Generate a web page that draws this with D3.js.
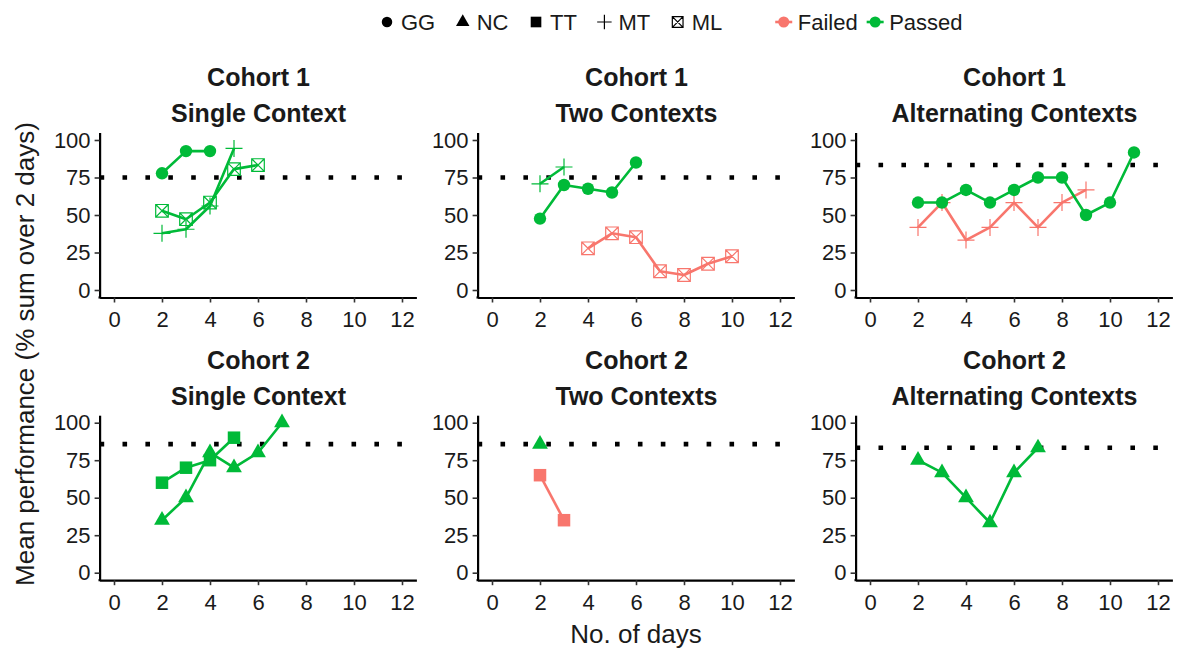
<!DOCTYPE html>
<html><head><meta charset="utf-8">
<script src="https://cdn.jsdelivr.net/npm/d3@7"></script>
<style>body{margin:0;background:#fff} svg{display:block} text{font-family:"Liberation Sans",Arial,Helvetica,sans-serif}</style>
</head><body>
<svg id="chart" width="1178" height="649"></svg>
<script>
// ---------- data ----------
const dayTicks = [0, 2, 4, 6, 8, 10, 12];
const perfTicks = [0, 25, 50, 75, 100];
const cohorts = ["Cohort 1", "Cohort 2"];
const conditions = ["Single Context", "Two Contexts", "Alternating Contexts"];
const thresholdsCohort1 = [75, 75, 83.3];
const thresholdsCohort2 = [85.7, 85.7, 83.3];
const subjects = ["GG", "NC", "TT", "MT", "ML"];
const outcomes = ["Failed", "Passed"];

// Cohort 1 - Single Context
const c1SingleGGDays = [2, 3, 4];
const c1SingleGG = [77.8, 92.6, 92.6];
const c1SingleMTDays = [2, 3, 4, 5];
const c1SingleMT = [37.8, 40.5, 56, 94.4];
const c1SingleMLDays = [2, 3, 4, 5, 6];
const c1SingleML = [52.8, 47.2, 58.3, 80.6, 83.3];
// Cohort 1 - Two Contexts
const c1TwoGGDays = [2, 3, 4, 5, 6];
const c1TwoGG = [47.6, 70, 67.5, 65, 85];
const c1TwoMTDays = [2, 3];
const c1TwoMT = [70.8, 82];
const c1TwoMLDays = [4, 5, 6, 7, 8, 9, 10];
const c1TwoML = [27.8, 37.8, 35.2, 12.5, 10, 17.5, 22.5];
// Cohort 1 - Alternating Contexts
const c1AltGGDays = [2, 3, 4, 5, 6, 7, 8, 9, 10, 11];
const c1AltGG = [58.3, 58.3, 66.7, 58.3, 66.7, 75, 75, 50, 58.3, 91.7];
const c1AltMTDays = [2, 3, 4, 5, 6, 7, 8, 9];
const c1AltMT = [41.7, 58.3, 33.3, 41.7, 58.3, 41.7, 58.3, 66.7];
// Cohort 2 - Single Context
const c2SingleTTDays = [2, 3, 4, 5];
const c2SingleTT = [60, 70, 75, 90];
const c2SingleNCDays = [2, 3, 4, 5, 6, 7];
const c2SingleNC = [35, 50, 80, 70, 80, 100];
// Cohort 2 - Two Contexts
const c2TwoTTDays = [2, 3];
const c2TwoTT = [65, 35];
const c2TwoNCDays = [2];
const c2TwoNC = [85.7];
// Cohort 2 - Alternating Contexts
const c2AltNCDays = [2, 3, 4, 5, 6, 7];
const c2AltNC = [75, 66.7, 50, 33.3, 66.7, 83.3];

const series = [
  {row: 0, col: 0, subject: "ML", outcome: "Passed", days: c1SingleMLDays, values: c1SingleML},
  {row: 0, col: 0, subject: "MT", outcome: "Passed", days: c1SingleMTDays, values: c1SingleMT},
  {row: 0, col: 0, subject: "GG", outcome: "Passed", days: c1SingleGGDays, values: c1SingleGG},
  {row: 0, col: 1, subject: "ML", outcome: "Failed", days: c1TwoMLDays, values: c1TwoML},
  {row: 0, col: 1, subject: "MT", outcome: "Passed", days: c1TwoMTDays, values: c1TwoMT},
  {row: 0, col: 1, subject: "GG", outcome: "Passed", days: c1TwoGGDays, values: c1TwoGG},
  {row: 0, col: 2, subject: "MT", outcome: "Failed", days: c1AltMTDays, values: c1AltMT},
  {row: 0, col: 2, subject: "GG", outcome: "Passed", days: c1AltGGDays, values: c1AltGG},
  {row: 1, col: 0, subject: "TT", outcome: "Passed", days: c2SingleTTDays, values: c2SingleTT},
  {row: 1, col: 0, subject: "NC", outcome: "Passed", days: c2SingleNCDays, values: c2SingleNC},
  {row: 1, col: 1, subject: "TT", outcome: "Failed", days: c2TwoTTDays, values: c2TwoTT},
  {row: 1, col: 1, subject: "NC", outcome: "Passed", days: c2TwoNCDays, values: c2TwoNC},
  {row: 1, col: 2, subject: "NC", outcome: "Passed", days: c2AltNCDays, values: c2AltNC}
];
const thresholds = [thresholdsCohort1, thresholdsCohort2];

// ---------- layout ----------
const svg = d3.select("#chart");
const colLeft = [99.6, 477.6, 855.6];
const panelW = 316.8;
const rowTop = [132.5, 415.2];
const panelH = 165;
const color = d3.scaleOrdinal().domain(outcomes).range(["#F8766D", "#00BA38"]);
const ink = "#1a1a1a";

function drawMarker(g, subject, col, scaleK) {
  const k = scaleK || 1;
  if (subject === "GG") {
    g.append("circle").attr("r", 6.2 * k).attr("fill", col);
  } else if (subject === "NC") {
    g.append("path").attr("d", d3.symbol(d3.symbolTriangle, 108 * k * k)()).attr("fill", col);
  } else if (subject === "TT") {
    const s = 12.5 * k;
    g.append("rect").attr("x", -s / 2).attr("y", -s / 2).attr("width", s).attr("height", s).attr("fill", col);
  } else if (subject === "MT") {
    const a = 8.5 * k;
    g.append("path").attr("d", `M${-a},0H${a}M0,${-a}V${a}`).attr("stroke", col).attr("stroke-width", 1.2).attr("fill", "none");
  } else if (subject === "ML") {
    const h = 6.3 * k;
    g.append("path").attr("d", `M${-h},${-h}H${h}V${h}H${-h}ZM${-h},${-h}L${h},${h}M${h},${-h}L${-h},${h}`)
      .attr("stroke", col).attr("stroke-width", 1.2).attr("fill", "none");
  }
}

for (let r = 0; r < 2; r++) {
  for (let c = 0; c < 3; c++) {
    const x = d3.scaleLinear().domain([-0.6, 12.6]).range([colLeft[c], colLeft[c] + panelW]);
    const y = d3.scaleLinear().domain([-5, 105]).range([rowTop[r] + panelH, rowTop[r]]);
    const g = svg.append("g");

    // axes
    const ax = g.append("g").attr("transform", `translate(0,${rowTop[r] + panelH})`)
      .call(d3.axisBottom(x).tickValues(dayTicks).tickSizeInner(5).tickSizeOuter(0).tickPadding(9));
    const ay = g.append("g").attr("transform", `translate(${colLeft[c]},0)`)
      .call(d3.axisLeft(y).tickValues(perfTicks).tickSizeInner(5).tickSizeOuter(0).tickPadding(4));
    [ax, ay].forEach(a => {
      a.select(".domain").attr("stroke", "#000").attr("stroke-width", 2.2);
      a.selectAll(".tick line").attr("stroke", "#333").attr("stroke-width", 1.6);
      a.selectAll(".tick text").attr("fill", ink).attr("font-size", 22)
        .style("font-family", '"Liberation Sans",Arial,sans-serif');
    });
    // close the corner
    g.append("line").attr("x1", colLeft[c] - 1.1).attr("x2", colLeft[c] + 1)
      .attr("y1", rowTop[r] + panelH).attr("y2", rowTop[r] + panelH).attr("stroke", "#000").attr("stroke-width", 2.2);

    // threshold
    g.append("line").attr("x1", colLeft[c]).attr("x2", colLeft[c] + panelW)
      .attr("y1", y(thresholds[r][c])).attr("y2", y(thresholds[r][c]))
      .attr("stroke", "#000").attr("stroke-width", 4.6).attr("stroke-dasharray", "4.6 18.3");

    // series
    const line = d3.line().x(d => x(d[0])).y(d => y(d[1]));
    series.filter(s => s.row === r && s.col === c).forEach(s => {
      const pts = s.days.map((d, i) => [d, s.values[i]]);
      if (pts.length > 1) {
        g.append("path").datum(pts).attr("d", line).attr("fill", "none")
          .attr("stroke", color(s.outcome)).attr("stroke-width", 2.6).attr("stroke-linejoin", "round");
      }
      pts.forEach(p => {
        const m = g.append("g").attr("transform", `translate(${x(p[0])},${y(p[1])})`);
        drawMarker(m, s.subject, color(s.outcome));
      });
    });

    // titles
    const cx = colLeft[c] + panelW / 2 + 0.5;
    g.append("text").attr("x", cx).attr("y", rowTop[r] - 46.5).attr("text-anchor", "middle")
      .attr("font-size", 25).attr("font-weight", "bold").attr("fill", ink).text(cohorts[r]);
    g.append("text").attr("x", cx).attr("y", rowTop[r] - 10.5).attr("text-anchor", "middle")
      .attr("font-size", 25).attr("font-weight", "bold").attr("fill", ink).text(conditions[c]);
  }
}

// axis titles
svg.append("text").attr("transform", "translate(34,354) rotate(-90)").attr("text-anchor", "middle")
  .attr("font-size", 26).attr("fill", ink).text("Mean performance (% sum over 2 days)");
svg.append("text").attr("x", 636).attr("y", 643).attr("text-anchor", "middle")
  .attr("font-size", 26).attr("fill", ink).text("No. of days");

// legend
const leg = svg.append("g");
let lx = 378.5;
const ly = 22;
const shapeGap = 19, colorGap = 9, groupGap = 53, keyW = 17, keyGap = 5.5;
subjects.forEach((s, i) => {
  const m = leg.append("g").attr("transform", `translate(${lx + keyW / 2},${ly})`);
  drawMarker(m, s, "#000", 0.85);
  const t = leg.append("text").attr("x", lx + keyW + keyGap).attr("y", ly).attr("dy", "0.35em")
    .attr("font-size", 22).attr("fill", ink).text(s);
  lx += keyW + keyGap + t.node().getComputedTextLength() + shapeGap;
});
lx += groupGap - shapeGap;
outcomes.forEach(o => {
  const kc = lx + keyW / 2;
  leg.append("line").attr("x1", lx).attr("x2", lx + keyW).attr("y1", ly).attr("y2", ly)
    .attr("stroke", color(o)).attr("stroke-width", 2.6);
  leg.append("circle").attr("cx", kc).attr("cy", ly).attr("r", 5.5).attr("fill", color(o));
  const t = leg.append("text").attr("x", lx + keyW + keyGap).attr("y", ly).attr("dy", "0.35em")
    .attr("font-size", 22).attr("fill", ink).text(o);
  lx += keyW + keyGap + t.node().getComputedTextLength() + colorGap;
});
</script>
</body></html>
